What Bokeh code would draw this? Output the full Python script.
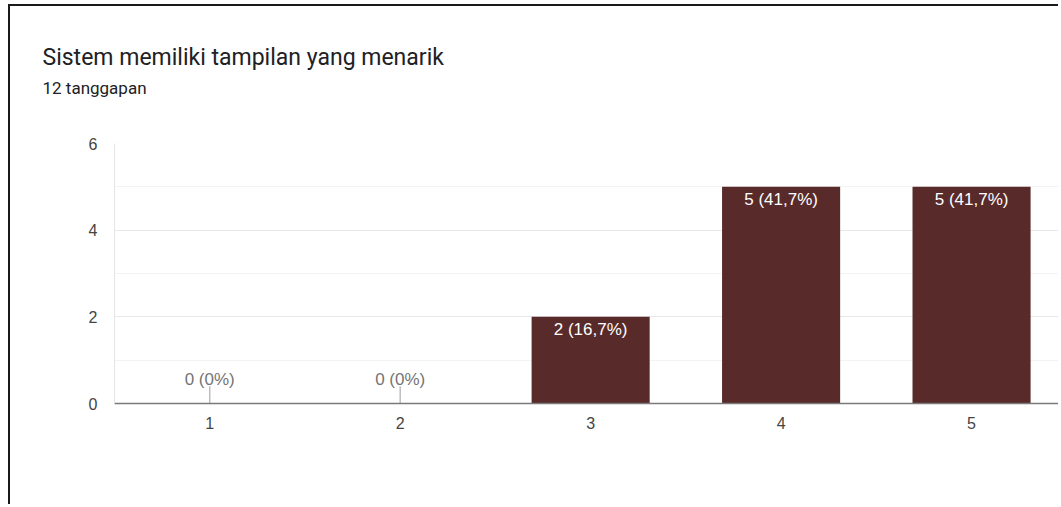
from bokeh.plotting import figure
from bokeh.models import ColumnDataSource, LabelSet, Title, FixedTicker, Range1d
from bokeh.core.properties import value
from bokeh.embed import file_html
from bokeh.resources import INLINE

# ---- data ----
categories = ["1", "2", "3", "4", "5"]
counts = [0, 0, 2, 5, 5]
percents = ["0%", "0%", "16,7%", "41,7%", "41,7%"]
y_ticks = [0, 2, 4, 6]
y_minor = [1, 3, 5]
title_text = "Sistem memiliki tampilan yang menarik"
subtitle_text = "12 tanggapan"

xs = list(range(1, len(categories) + 1))
labels = [f"{c} ({pc})" for c, pc in zip(counts, percents)]

BAR = "#592a2a"
CHART_FONT = "Liberation Sans"

bars = ColumnDataSource(dict(x=xs, top=counts))
inside = ColumnDataSource(dict(
    x=[x for x, c in zip(xs, counts) if c > 0],
    y=[c for c in counts if c > 0],
    t=[l for l, c in zip(labels, counts) if c > 0]))
outside = ColumnDataSource(dict(
    x=[x for x, c in zip(xs, counts) if c == 0],
    y=[c for c in counts if c == 0],
    y1=[c + 0.40 for c in counts if c == 0],
    t=[l for l, c in zip(labels, counts) if c == 0]))

p = figure(width=1050, height=500,
           x_range=Range1d(0.5, 5.467), y_range=Range1d(0, 6),
           output_backend="svg", toolbar_location=None, title=None,
           min_border_left=104, min_border_right=0,
           min_border_top=137, min_border_bottom=103,
           background_fill_color="white", border_fill_color="white")
p.styles = {"border-left": "2px solid #1a1a1a", "border-top": "2px solid #1a1a1a",
            "margin-left": "8px", "margin-top": "4px"}
p.outline_line_color = None

# titles: blank spacer nearest the plot, then subtitle, then main title
spacer = Title(text=" ", text_font=CHART_FONT, text_font_size="10px",
               text_color="white", standoff=32.8)
p.add_layout(spacer, "above")
sub = Title(text=subtitle_text, align="left", offset=-72,
            text_font="Roboto", text_font_size="17px", text_font_style="normal",
            text_color="#202124", standoff=0)
p.add_layout(sub, "above")
main = Title(text=title_text, align="left", offset=-72,
             text_font="Roboto", text_font_size="23px", text_font_style="normal",
             text_color="#202124", standoff=9)
p.add_layout(main, "above")

# bars
p.vbar(x="x", top="top", bottom=0, width=0.62, source=bars,
       fill_color=BAR, line_color=None)

# stems for zero values
p.segment(x0="x", y0="y", x1="x", y1="y1", source=outside,
          line_color="#bdbdbd", line_width=1.5)

p.add_layout(LabelSet(x="x", y="y", text="t", source=inside,
                      text_align="center", text_baseline="alphabetic",
                      y_offset=-18.5, text_color="white",
                      text_font=value(CHART_FONT), text_font_size="17px"))
p.add_layout(LabelSet(x="x", y="y", text="t", source=outside,
                      text_align="center", text_baseline="alphabetic",
                      y_offset=19, text_color="#757575",
                      text_font=value(CHART_FONT), text_font_size="17px"))

# axes
p.xaxis.ticker = FixedTicker(ticks=xs)
p.xaxis.major_label_overrides = {x: c for x, c in zip(xs, categories)}
p.xaxis.axis_line_color = "#7a7a7a"
p.xaxis.axis_line_width = 1.5
p.xaxis.major_tick_line_color = None
p.xaxis.minor_tick_line_color = None
p.xaxis.major_tick_out = 0
p.xaxis.major_tick_in = 0
p.xaxis.minor_tick_out = 0
p.xaxis.major_label_standoff = 13
p.xaxis.major_label_text_font = CHART_FONT
p.xaxis.major_label_text_font_size = "16px"
p.xaxis.major_label_text_color = "#444444"

p.yaxis.ticker = FixedTicker(ticks=y_ticks, minor_ticks=y_minor)
p.yaxis.axis_line_color = "#e6e6e6"
p.yaxis.major_tick_line_color = None
p.yaxis.minor_tick_line_color = None
p.yaxis.major_tick_out = 0
p.yaxis.major_tick_in = 0
p.yaxis.minor_tick_out = 0
p.yaxis.major_label_standoff = 17
p.yaxis.major_label_text_font = CHART_FONT
p.yaxis.major_label_text_font_size = "16px"
p.yaxis.major_label_text_color = "#444444"

p.xgrid.grid_line_color = None
p.ygrid.grid_line_color = "#e8e8e8"
p.ygrid.minor_grid_line_color = "#f3f3f3"

open("out.html", "w").write(file_html(p, INLINE))
